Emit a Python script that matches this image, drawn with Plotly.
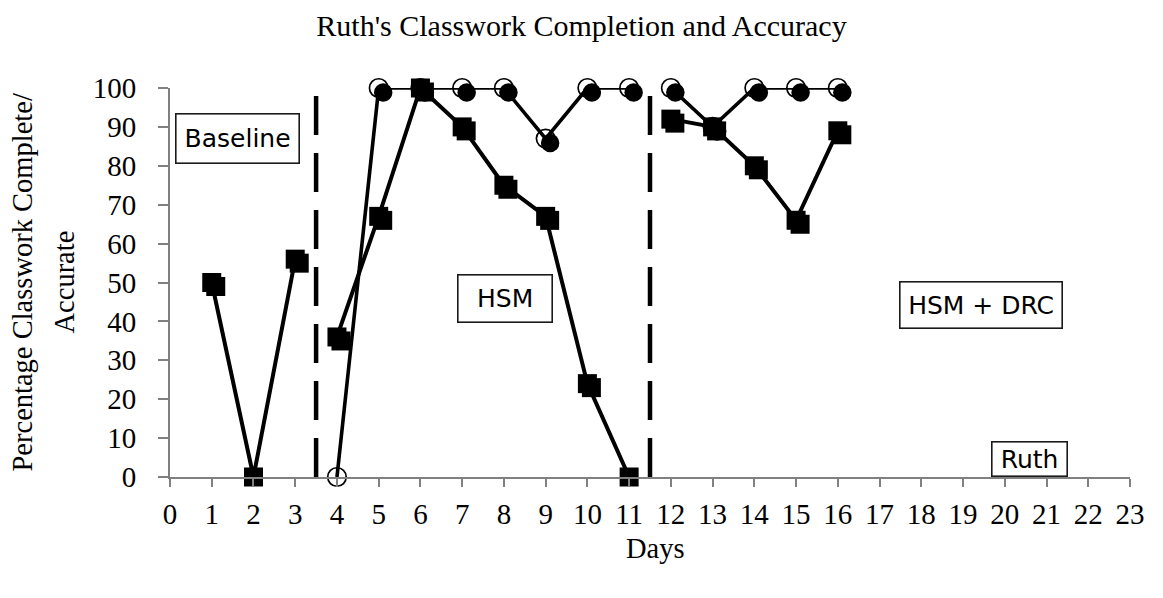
import plotly.graph_objects as go

# ---------------- data ----------------
days = list(range(1, 17))
accuracy = [50, 0, 56, 36, 67, 100, 90, 75, 67, 24, 0, 92, 90, 80, 66, 89]
completion = [None, None, None, 0, 100, 100, 100, 100, 87, 100, 100, 100, 90, 100, 100, 100]
phase_changes = [3.5, 11.5]
phase_labels = ["Baseline", "HSM", "HSM + DRC", "Ruth"]
x_ticks = list(range(0, 24))
y_ticks = list(range(0, 101, 10))

TITLE = "Ruth's Classwork Completion and Accuracy"
Y_TITLE_1 = "Percentage Classwork Complete/"
Y_TITLE_2 = "Accurate"
X_TITLE = "Days"


def split_phases(xs, ys, breaks):
    """Insert None between phases so lines are not joined across phase changes."""
    ox, oy = [], []
    prev_phase = None
    for x, y in zip(xs, ys):
        if y is None:
            continue
        ph = sum(1 for b in breaks if x > b)
        if prev_phase is not None and ph != prev_phase:
            ox.append(None)
            oy.append(None)
        ox.append(x)
        oy.append(y)
        prev_phase = ph
    return ox, oy


acc_x, acc_y = split_phases(days, accuracy, phase_changes)
com_x, com_y = split_phases(days, completion, phase_changes)

# ---------------- geometry ----------------
PAGE_OFF = 8                      # default body margin of the html page
W, H = 1163 - 2 * PAGE_OFF, 598 - 2 * PAGE_OFF
# desired page-pixel plot box: left 170, right 1130, top 88, bottom 477
M_L = 170 - PAGE_OFF
M_T = 88 - PAGE_OFF
M_R = W - (1130 - PAGE_OFF)
M_B = H - (477 - PAGE_OFF)
plot_w = W - M_L - M_R
plot_h = H - M_T - M_B
X_MAX, Y_MAX = 23, 100
ppx = plot_w / X_MAX
ppy = plot_h / Y_MAX

sq_off = 4     # px shadow offset for squares
ci_off = 4.5   # px shadow offset for circles

SERIF = "Liberation Serif"
SANS = "DejaVu Sans"

fig = go.Figure()

# circle shadows
fig.add_trace(go.Scatter(x=com_x, y=com_y, mode="markers", xaxis="x3", yaxis="y3",
                         marker=dict(symbol="circle", size=18.5, color="black",
                                     line=dict(width=0)),
                         cliponaxis=False, hoverinfo="skip"))
# circles
fig.add_trace(go.Scatter(x=com_x, y=com_y, mode="markers",
                         marker=dict(symbol="circle", size=18.5, color="white",
                                     line=dict(width=1.7, color="black")),
                         cliponaxis=False, name="Completion"))
fig.add_trace(go.Scatter(x=com_x, y=com_y, mode="lines",
                         line=dict(color="black", width=3.6),
                         cliponaxis=True, hoverinfo="skip"))
# square shadows
fig.add_trace(go.Scatter(x=acc_x, y=acc_y, mode="markers", xaxis="x2", yaxis="y2",
                         marker=dict(symbol="square", size=19, color="black",
                                     line=dict(width=0)),
                         cliponaxis=False, hoverinfo="skip"))
# squares
fig.add_trace(go.Scatter(x=acc_x, y=acc_y, mode="lines+markers",
                         marker=dict(symbol="square", size=19, color="black",
                                     line=dict(width=0)),
                         line=dict(color="black", width=4),
                         cliponaxis=False, name="Accuracy"))

# phase change lines
for b in phase_changes:
    fig.add_shape(type="line", x0=b, x1=b, y0=0, y1=Y_MAX, xref="x", yref="y",
                  line=dict(color="black", width=4.5, dash="39px,18px"))

# phase label boxes (page-pixel centers/sizes converted to data coords)
box_px = [(237, 138, 122, 48), (504.5, 298, 93, 46), (981, 305, 161, 45), (1029, 458.5, 74, 33)]
for lab, (cx, cy, bw, bh) in zip(phase_labels, box_px):
    fig.add_annotation(x=(cx - 170) / ppx, y=(477 - cy) / ppy, xref="x", yref="y",
                       text=lab, showarrow=False, xanchor="center", yanchor="middle",
                       font=dict(family=SANS, size=25, color="black"),
                       bordercolor="#1a1a1a", borderwidth=1.6, borderpad=0,
                       bgcolor="white", width=bw, height=bh)

# y-axis title (two lines)
fig.add_annotation(text=Y_TITLE_1, xref="paper", yref="paper", x=0, y=0.5,
                   xshift=22 - 170, textangle=-90, showarrow=False,
                   xanchor="center", yanchor="middle",
                   font=dict(family=SERIF, size=28.5, color="black"))
fig.add_annotation(text=Y_TITLE_2, xref="paper", yref="paper", x=0, y=0.5,
                   xshift=64 - 170, textangle=-90, showarrow=False,
                   xanchor="center", yanchor="middle",
                   font=dict(family=SERIF, size=28.5, color="black"))
# x-axis title
fig.add_annotation(text=X_TITLE, xref="paper", yref="paper", x=0.5, y=0,
                   xshift=5, yshift=-(548 - 477), showarrow=False,
                   xanchor="center", yanchor="middle",
                   font=dict(family=SERIF, size=28.5, color="black"))

axis_common = dict(showgrid=False, zeroline=False, showline=True, linecolor="#808080",
                   linewidth=2, ticks="outside", tickcolor="#808080", tickwidth=1.5,
                   tickfont=dict(family=SERIF, size=29, color="black"))

fig.update_layout(
    width=W, height=H,
    margin=dict(l=M_L, r=M_R, t=M_T, b=M_B, autoexpand=False),
    paper_bgcolor="white", plot_bgcolor="white",
    showlegend=False,
    title=dict(text=TITLE, x=0.5, xref="container", y=1 - (25 - PAGE_OFF) / H,
               yanchor="middle",
               font=dict(family=SERIF, size=30, color="black")),
    xaxis=dict(range=[0, X_MAX], tickvals=x_ticks, ticklen=8, ticklabelstandoff=2,
               **axis_common),
    yaxis=dict(range=[0, Y_MAX], tickvals=y_ticks, ticklen=10, ticklabelstandoff=16,
               **axis_common),
    xaxis2=dict(range=[-sq_off / ppx, X_MAX - sq_off / ppx], overlaying="x", visible=False),
    yaxis2=dict(range=[sq_off / ppy, Y_MAX + sq_off / ppy], overlaying="y", visible=False),
    xaxis3=dict(range=[-ci_off / ppx, X_MAX - ci_off / ppx], overlaying="x", visible=False),
    yaxis3=dict(range=[ci_off / ppy, Y_MAX + ci_off / ppy], overlaying="y", visible=False),
)

fig.write_html("out.html")
